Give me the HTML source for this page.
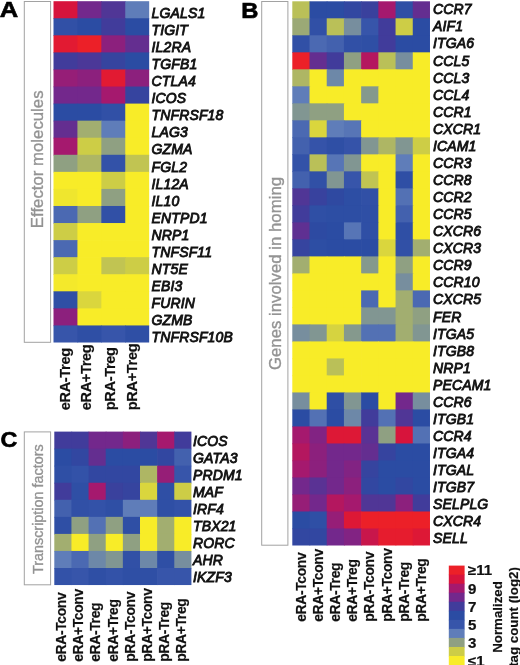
<!DOCTYPE html>
<html><head><meta charset="utf-8"><title>Figure</title>
<style>
html,body{margin:0;padding:0;background:#fff;width:520px;height:665px;overflow:hidden;}
#fig{position:relative;width:520px;height:665px;overflow:hidden;background:#fff;}
body{width:520px;height:665px;overflow:hidden;font-family:"Liberation Sans",sans-serif;}
svg{display:block;will-change:transform;filter:blur(0.45px);}
text{font-family:"Liberation Sans",sans-serif;fill:#111;}
.g{font-size:14.0px;letter-spacing:0.15px;font-style:italic;font-weight:normal;stroke:#111;stroke-width:0.85;}
.c{font-size:13.9px;letter-spacing:-0.35px;font-weight:bold;stroke:#111;stroke-width:0.2;}
.b{fill:#939393;stroke:#939393;stroke-width:0.35;}
.l{font-size:14px;font-weight:bold;stroke:#111;stroke-width:0.2;}
.n{font-size:13.3px;font-weight:bold;stroke:#111;stroke-width:0.2;}
.p{font-size:21.8px;font-weight:bold;fill:#000;stroke:#000;stroke-width:0.6;}
</style></head><body>
<div id="fig">
<svg width="540" height="690" viewBox="0 0 540 690">
<rect x="53.50" y="1.20" width="24.62" height="17.77" fill="#d7143c"/>
<rect x="77.42" y="1.20" width="24.62" height="17.77" fill="#73288c"/>
<rect x="101.34" y="1.20" width="24.62" height="17.77" fill="#503696"/>
<rect x="125.26" y="1.20" width="23.92" height="17.77" fill="#5f7db9"/>
<rect x="53.50" y="18.27" width="24.62" height="17.77" fill="#3150a6"/>
<rect x="77.42" y="18.27" width="24.62" height="17.77" fill="#2b4ca3"/>
<rect x="101.34" y="18.27" width="24.62" height="17.77" fill="#413c9b"/>
<rect x="125.26" y="18.27" width="23.92" height="17.77" fill="#2b4ca3"/>
<rect x="53.50" y="35.33" width="24.62" height="17.77" fill="#e21a32"/>
<rect x="77.42" y="35.33" width="24.62" height="17.77" fill="#ec2028"/>
<rect x="101.34" y="35.33" width="24.62" height="17.77" fill="#8c207d"/>
<rect x="125.26" y="35.33" width="23.92" height="17.77" fill="#642e90"/>
<rect x="53.50" y="52.40" width="24.62" height="17.77" fill="#413c9b"/>
<rect x="77.42" y="52.40" width="24.62" height="17.77" fill="#4b3898"/>
<rect x="101.34" y="52.40" width="24.62" height="17.77" fill="#36449f"/>
<rect x="125.26" y="52.40" width="23.92" height="17.77" fill="#2b4ca3"/>
<rect x="53.50" y="69.46" width="24.62" height="17.77" fill="#961e77"/>
<rect x="77.42" y="69.46" width="24.62" height="17.77" fill="#8c207d"/>
<rect x="101.34" y="69.46" width="24.62" height="17.77" fill="#e21a32"/>
<rect x="125.26" y="69.46" width="23.92" height="17.77" fill="#8c207d"/>
<rect x="53.50" y="86.53" width="24.62" height="17.77" fill="#73288c"/>
<rect x="77.42" y="86.53" width="24.62" height="17.77" fill="#73288c"/>
<rect x="101.34" y="86.53" width="24.62" height="17.77" fill="#a5196e"/>
<rect x="125.26" y="86.53" width="23.92" height="17.77" fill="#36449f"/>
<rect x="53.50" y="103.59" width="24.62" height="17.77" fill="#2b4ca3"/>
<rect x="77.42" y="103.59" width="24.62" height="17.77" fill="#2b4ca3"/>
<rect x="101.34" y="103.59" width="24.62" height="17.77" fill="#3150a6"/>
<rect x="125.26" y="103.59" width="23.92" height="17.77" fill="#f8ec28"/>
<rect x="53.50" y="120.66" width="24.62" height="17.77" fill="#642e90"/>
<rect x="77.42" y="120.66" width="24.62" height="17.77" fill="#a2ae70"/>
<rect x="101.34" y="120.66" width="24.62" height="17.77" fill="#5f7db9"/>
<rect x="125.26" y="120.66" width="23.92" height="17.77" fill="#f8ec28"/>
<rect x="53.50" y="137.72" width="24.62" height="17.77" fill="#a5196e"/>
<rect x="77.42" y="137.72" width="24.62" height="17.77" fill="#cdcd46"/>
<rect x="101.34" y="137.72" width="24.62" height="17.77" fill="#8fa082"/>
<rect x="125.26" y="137.72" width="23.92" height="17.77" fill="#f8ec28"/>
<rect x="53.50" y="154.78" width="24.62" height="17.77" fill="#8fa082"/>
<rect x="77.42" y="154.78" width="24.62" height="17.77" fill="#aeb664"/>
<rect x="101.34" y="154.78" width="24.62" height="17.77" fill="#3352a8"/>
<rect x="125.26" y="154.78" width="23.92" height="17.77" fill="#c1c452"/>
<rect x="53.50" y="171.85" width="24.62" height="17.77" fill="#f8ec28"/>
<rect x="77.42" y="171.85" width="24.62" height="17.77" fill="#f8ec28"/>
<rect x="101.34" y="171.85" width="24.62" height="17.77" fill="#cdcd46"/>
<rect x="125.26" y="171.85" width="23.92" height="17.77" fill="#f8ec28"/>
<rect x="53.50" y="188.91" width="24.62" height="17.77" fill="#efe62e"/>
<rect x="77.42" y="188.91" width="24.62" height="17.77" fill="#f8ec28"/>
<rect x="101.34" y="188.91" width="24.62" height="17.77" fill="#8fa082"/>
<rect x="125.26" y="188.91" width="23.92" height="17.77" fill="#f8ec28"/>
<rect x="53.50" y="205.98" width="24.62" height="17.77" fill="#4b69b2"/>
<rect x="77.42" y="205.98" width="24.62" height="17.77" fill="#8fa082"/>
<rect x="101.34" y="205.98" width="24.62" height="17.77" fill="#3150a6"/>
<rect x="125.26" y="205.98" width="23.92" height="17.77" fill="#f8ec28"/>
<rect x="53.50" y="223.05" width="24.62" height="17.77" fill="#cdcd46"/>
<rect x="77.42" y="223.05" width="24.62" height="17.77" fill="#f8ec28"/>
<rect x="101.34" y="223.05" width="24.62" height="17.77" fill="#f8ec28"/>
<rect x="125.26" y="223.05" width="23.92" height="17.77" fill="#f8ec28"/>
<rect x="53.50" y="240.11" width="24.62" height="17.77" fill="#4b69b2"/>
<rect x="77.42" y="240.11" width="24.62" height="17.77" fill="#f8ec28"/>
<rect x="101.34" y="240.11" width="24.62" height="17.77" fill="#f8ec28"/>
<rect x="125.26" y="240.11" width="23.92" height="17.77" fill="#f8ec28"/>
<rect x="53.50" y="257.18" width="24.62" height="17.77" fill="#cdcd46"/>
<rect x="77.42" y="257.18" width="24.62" height="17.77" fill="#f8ec28"/>
<rect x="101.34" y="257.18" width="24.62" height="17.77" fill="#c1c452"/>
<rect x="125.26" y="257.18" width="23.92" height="17.77" fill="#cdcd46"/>
<rect x="53.50" y="274.24" width="24.62" height="17.77" fill="#f4e92b"/>
<rect x="77.42" y="274.24" width="24.62" height="17.77" fill="#f8ec28"/>
<rect x="101.34" y="274.24" width="24.62" height="17.77" fill="#f8ec28"/>
<rect x="125.26" y="274.24" width="23.92" height="17.77" fill="#f8ec28"/>
<rect x="53.50" y="291.31" width="24.62" height="17.77" fill="#2f4fa5"/>
<rect x="77.42" y="291.31" width="24.62" height="17.77" fill="#dad63d"/>
<rect x="101.34" y="291.31" width="24.62" height="17.77" fill="#f8ec28"/>
<rect x="125.26" y="291.31" width="23.92" height="17.77" fill="#f8ec28"/>
<rect x="53.50" y="308.37" width="24.62" height="17.77" fill="#8c207d"/>
<rect x="77.42" y="308.37" width="24.62" height="17.77" fill="#f8ec28"/>
<rect x="101.34" y="308.37" width="24.62" height="17.77" fill="#f8ec28"/>
<rect x="125.26" y="308.37" width="23.92" height="17.77" fill="#f8ec28"/>
<rect x="53.50" y="325.44" width="24.62" height="17.07" fill="#3755aa"/>
<rect x="77.42" y="325.44" width="24.62" height="17.07" fill="#2f4fa5"/>
<rect x="101.34" y="325.44" width="24.62" height="17.07" fill="#3755aa"/>
<rect x="125.26" y="325.44" width="23.92" height="17.07" fill="#2f4fa5"/>
<text class="g" x="151.50" y="18.00">LGALS1</text>
<text class="g" x="151.50" y="35.05">TIGIT</text>
<text class="g" x="151.50" y="52.11">IL2RA</text>
<text class="g" x="151.50" y="69.16">TGFB1</text>
<text class="g" x="151.50" y="86.22">CTLA4</text>
<text class="g" x="151.50" y="103.28">ICOS</text>
<text class="g" x="151.50" y="120.33">TNFRSF18</text>
<text class="g" x="151.50" y="137.38">LAG3</text>
<text class="g" x="151.50" y="154.44">GZMA</text>
<text class="g" x="151.50" y="171.50">FGL2</text>
<text class="g" x="151.50" y="188.55">IL12A</text>
<text class="g" x="151.50" y="205.60">IL10</text>
<text class="g" x="151.50" y="222.66">ENTPD1</text>
<text class="g" x="151.50" y="239.72">NRP1</text>
<text class="g" x="151.50" y="256.77">TNFSF11</text>
<text class="g" x="151.50" y="273.82">NT5E</text>
<text class="g" x="151.50" y="290.88">EBI3</text>
<text class="g" x="151.50" y="307.94">FURIN</text>
<text class="g" x="151.50" y="324.99">GZMB</text>
<text class="g" x="151.50" y="342.05">TNFRSF10B</text>
<rect x="24.30" y="1.50" width="26.30" height="340.80" fill="#fff" stroke="#a2a2a2" stroke-width="1"/><text class="b" style="font-size:16.8px" transform="translate(43.40 159.30) rotate(-90)" text-anchor="middle">Effector molecules</text>
<text class="c" style="font-size:14.6px" transform="translate(70.00 410.30) rotate(-90) scale(1.000 1)">eRA-Treg</text>
<text class="c" style="font-size:14.6px" transform="translate(91.20 410.30) rotate(-90) scale(1.000 1)">eRA+Treg</text>
<text class="c" style="font-size:14.6px" transform="translate(115.20 410.30) rotate(-90) scale(1.000 1)">pRA-Treg</text>
<text class="c" style="font-size:14.6px" transform="translate(137.30 410.30) rotate(-90) scale(1.000 1)">pRA+Treg</text>
<rect x="292.30" y="1.30" width="17.91" height="17.71" fill="#bac058"/>
<rect x="309.51" y="1.30" width="17.91" height="17.71" fill="#2b4ca3"/>
<rect x="326.72" y="1.30" width="17.91" height="17.71" fill="#2b4ca3"/>
<rect x="343.93" y="1.30" width="17.91" height="17.71" fill="#3247a1"/>
<rect x="361.14" y="1.30" width="17.91" height="17.71" fill="#3a419d"/>
<rect x="378.35" y="1.30" width="17.91" height="17.71" fill="#a5196e"/>
<rect x="395.56" y="1.30" width="17.91" height="17.71" fill="#2f4fa5"/>
<rect x="412.77" y="1.30" width="17.21" height="17.71" fill="#642e90"/>
<rect x="292.30" y="18.31" width="17.91" height="17.71" fill="#9ba976"/>
<rect x="309.51" y="18.31" width="17.91" height="17.71" fill="#3150a6"/>
<rect x="326.72" y="18.31" width="17.91" height="17.71" fill="#bac058"/>
<rect x="343.93" y="18.31" width="17.91" height="17.71" fill="#778e9e"/>
<rect x="361.14" y="18.31" width="17.91" height="17.71" fill="#3755aa"/>
<rect x="378.35" y="18.31" width="17.91" height="17.71" fill="#413c9b"/>
<rect x="395.56" y="18.31" width="17.91" height="17.71" fill="#cdcd46"/>
<rect x="412.77" y="18.31" width="17.21" height="17.71" fill="#2b4ca3"/>
<rect x="292.30" y="35.31" width="17.91" height="17.71" fill="#3150a6"/>
<rect x="309.51" y="35.31" width="17.91" height="17.71" fill="#4b69b2"/>
<rect x="326.72" y="35.31" width="17.91" height="17.71" fill="#4361ae"/>
<rect x="343.93" y="35.31" width="17.91" height="17.71" fill="#3150a6"/>
<rect x="361.14" y="35.31" width="17.91" height="17.71" fill="#2f4fa5"/>
<rect x="378.35" y="35.31" width="17.91" height="17.71" fill="#413c9b"/>
<rect x="395.56" y="35.31" width="17.91" height="17.71" fill="#2b4ca3"/>
<rect x="412.77" y="35.31" width="17.21" height="17.71" fill="#2b4ca3"/>
<rect x="292.30" y="52.32" width="17.91" height="17.71" fill="#ec2028"/>
<rect x="309.51" y="52.32" width="17.91" height="17.71" fill="#642e90"/>
<rect x="326.72" y="52.32" width="17.91" height="17.71" fill="#413c9b"/>
<rect x="343.93" y="52.32" width="17.91" height="17.71" fill="#8fa082"/>
<rect x="361.14" y="52.32" width="17.91" height="17.71" fill="#b4175f"/>
<rect x="378.35" y="52.32" width="17.91" height="17.71" fill="#bac058"/>
<rect x="395.56" y="52.32" width="17.91" height="17.71" fill="#778e9e"/>
<rect x="412.77" y="52.32" width="17.21" height="17.71" fill="#f8ec28"/>
<rect x="292.30" y="69.32" width="17.91" height="17.71" fill="#aeb664"/>
<rect x="309.51" y="69.32" width="17.91" height="17.71" fill="#f8ec28"/>
<rect x="326.72" y="69.32" width="17.91" height="17.71" fill="#6d88a8"/>
<rect x="343.93" y="69.32" width="17.91" height="17.71" fill="#f8ec28"/>
<rect x="361.14" y="69.32" width="17.91" height="17.71" fill="#f8ec28"/>
<rect x="378.35" y="69.32" width="17.91" height="17.71" fill="#f8ec28"/>
<rect x="395.56" y="69.32" width="17.91" height="17.71" fill="#f8ec28"/>
<rect x="412.77" y="69.32" width="17.21" height="17.71" fill="#f8ec28"/>
<rect x="292.30" y="86.33" width="17.91" height="17.71" fill="#5f7db9"/>
<rect x="309.51" y="86.33" width="17.91" height="17.71" fill="#f8ec28"/>
<rect x="326.72" y="86.33" width="17.91" height="17.71" fill="#f8ec28"/>
<rect x="343.93" y="86.33" width="17.91" height="17.71" fill="#f8ec28"/>
<rect x="361.14" y="86.33" width="17.91" height="17.71" fill="#85998d"/>
<rect x="378.35" y="86.33" width="17.91" height="17.71" fill="#f8ec28"/>
<rect x="395.56" y="86.33" width="17.91" height="17.71" fill="#f8ec28"/>
<rect x="412.77" y="86.33" width="17.21" height="17.71" fill="#f8ec28"/>
<rect x="292.30" y="103.34" width="17.91" height="17.71" fill="#819692"/>
<rect x="309.51" y="103.34" width="17.91" height="17.71" fill="#8fa082"/>
<rect x="326.72" y="103.34" width="17.91" height="17.71" fill="#8fa082"/>
<rect x="343.93" y="103.34" width="17.91" height="17.71" fill="#f8ec28"/>
<rect x="361.14" y="103.34" width="17.91" height="17.71" fill="#f8ec28"/>
<rect x="378.35" y="103.34" width="17.91" height="17.71" fill="#f8ec28"/>
<rect x="395.56" y="103.34" width="17.91" height="17.71" fill="#f8ec28"/>
<rect x="412.77" y="103.34" width="17.21" height="17.71" fill="#f8ec28"/>
<rect x="292.30" y="120.34" width="17.91" height="17.71" fill="#4b69b2"/>
<rect x="309.51" y="120.34" width="17.91" height="17.71" fill="#dad63d"/>
<rect x="326.72" y="120.34" width="17.91" height="17.71" fill="#5f7db9"/>
<rect x="343.93" y="120.34" width="17.91" height="17.71" fill="#5775b6"/>
<rect x="361.14" y="120.34" width="17.91" height="17.71" fill="#f8ec28"/>
<rect x="378.35" y="120.34" width="17.91" height="17.71" fill="#f8ec28"/>
<rect x="395.56" y="120.34" width="17.91" height="17.71" fill="#f8ec28"/>
<rect x="412.77" y="120.34" width="17.21" height="17.71" fill="#f8ec28"/>
<rect x="292.30" y="137.35" width="17.91" height="17.71" fill="#4361ae"/>
<rect x="309.51" y="137.35" width="17.91" height="17.71" fill="#3553a9"/>
<rect x="326.72" y="137.35" width="17.91" height="17.71" fill="#2f4fa5"/>
<rect x="343.93" y="137.35" width="17.91" height="17.71" fill="#3553a9"/>
<rect x="361.14" y="137.35" width="17.91" height="17.71" fill="#819692"/>
<rect x="378.35" y="137.35" width="17.91" height="17.71" fill="#aeb664"/>
<rect x="395.56" y="137.35" width="17.91" height="17.71" fill="#819692"/>
<rect x="412.77" y="137.35" width="17.21" height="17.71" fill="#cdcd46"/>
<rect x="292.30" y="154.35" width="17.91" height="17.71" fill="#3352a8"/>
<rect x="309.51" y="154.35" width="17.91" height="17.71" fill="#bac058"/>
<rect x="326.72" y="154.35" width="17.91" height="17.71" fill="#5775b6"/>
<rect x="343.93" y="154.35" width="17.91" height="17.71" fill="#819692"/>
<rect x="361.14" y="154.35" width="17.91" height="17.71" fill="#f8ec28"/>
<rect x="378.35" y="154.35" width="17.91" height="17.71" fill="#f8ec28"/>
<rect x="395.56" y="154.35" width="17.91" height="17.71" fill="#5f7db9"/>
<rect x="412.77" y="154.35" width="17.21" height="17.71" fill="#f8ec28"/>
<rect x="292.30" y="171.36" width="17.91" height="17.71" fill="#4361ae"/>
<rect x="309.51" y="171.36" width="17.91" height="17.71" fill="#3150a6"/>
<rect x="326.72" y="171.36" width="17.91" height="17.71" fill="#819692"/>
<rect x="343.93" y="171.36" width="17.91" height="17.71" fill="#3755aa"/>
<rect x="361.14" y="171.36" width="17.91" height="17.71" fill="#c1c452"/>
<rect x="378.35" y="171.36" width="17.91" height="17.71" fill="#f8ec28"/>
<rect x="395.56" y="171.36" width="17.91" height="17.71" fill="#2f4fa5"/>
<rect x="412.77" y="171.36" width="17.21" height="17.71" fill="#f8ec28"/>
<rect x="292.30" y="188.37" width="17.91" height="17.71" fill="#503696"/>
<rect x="309.51" y="188.37" width="17.91" height="17.71" fill="#38429e"/>
<rect x="326.72" y="188.37" width="17.91" height="17.71" fill="#2f49a1"/>
<rect x="343.93" y="188.37" width="17.91" height="17.71" fill="#2d4ea4"/>
<rect x="361.14" y="188.37" width="17.91" height="17.71" fill="#3150a6"/>
<rect x="378.35" y="188.37" width="17.91" height="17.71" fill="#f8ec28"/>
<rect x="395.56" y="188.37" width="17.91" height="17.71" fill="#5371b4"/>
<rect x="412.77" y="188.37" width="17.21" height="17.71" fill="#f8ec28"/>
<rect x="292.30" y="205.37" width="17.91" height="17.71" fill="#413c9b"/>
<rect x="309.51" y="205.37" width="17.91" height="17.71" fill="#2f4fa5"/>
<rect x="326.72" y="205.37" width="17.91" height="17.71" fill="#2d4ea4"/>
<rect x="343.93" y="205.37" width="17.91" height="17.71" fill="#2d4ea4"/>
<rect x="361.14" y="205.37" width="17.91" height="17.71" fill="#2f4fa5"/>
<rect x="378.35" y="205.37" width="17.91" height="17.71" fill="#f8ec28"/>
<rect x="395.56" y="205.37" width="17.91" height="17.71" fill="#4361ae"/>
<rect x="412.77" y="205.37" width="17.21" height="17.71" fill="#f8ec28"/>
<rect x="292.30" y="222.38" width="17.91" height="17.71" fill="#5f3092"/>
<rect x="309.51" y="222.38" width="17.91" height="17.71" fill="#2d4aa2"/>
<rect x="326.72" y="222.38" width="17.91" height="17.71" fill="#2b4ca3"/>
<rect x="343.93" y="222.38" width="17.91" height="17.71" fill="#5775b6"/>
<rect x="361.14" y="222.38" width="17.91" height="17.71" fill="#2f4fa5"/>
<rect x="378.35" y="222.38" width="17.91" height="17.71" fill="#f8ec28"/>
<rect x="395.56" y="222.38" width="17.91" height="17.71" fill="#2f4fa5"/>
<rect x="412.77" y="222.38" width="17.21" height="17.71" fill="#f8ec28"/>
<rect x="292.30" y="239.38" width="17.91" height="17.71" fill="#36449f"/>
<rect x="309.51" y="239.38" width="17.91" height="17.71" fill="#2d4ea4"/>
<rect x="326.72" y="239.38" width="17.91" height="17.71" fill="#2b4ca3"/>
<rect x="343.93" y="239.38" width="17.91" height="17.71" fill="#2b4ca3"/>
<rect x="361.14" y="239.38" width="17.91" height="17.71" fill="#2b4ca3"/>
<rect x="378.35" y="239.38" width="17.91" height="17.71" fill="#dad63d"/>
<rect x="395.56" y="239.38" width="17.91" height="17.71" fill="#3150a6"/>
<rect x="412.77" y="239.38" width="17.21" height="17.71" fill="#a2ae70"/>
<rect x="292.30" y="256.39" width="17.91" height="17.71" fill="#a2ae70"/>
<rect x="309.51" y="256.39" width="17.91" height="17.71" fill="#f8ec28"/>
<rect x="326.72" y="256.39" width="17.91" height="17.71" fill="#f8ec28"/>
<rect x="343.93" y="256.39" width="17.91" height="17.71" fill="#f8ec28"/>
<rect x="361.14" y="256.39" width="17.91" height="17.71" fill="#85998d"/>
<rect x="378.35" y="256.39" width="17.91" height="17.71" fill="#f8ec28"/>
<rect x="395.56" y="256.39" width="17.91" height="17.71" fill="#8fa082"/>
<rect x="412.77" y="256.39" width="17.21" height="17.71" fill="#f8ec28"/>
<rect x="292.30" y="273.40" width="17.91" height="17.71" fill="#f8ec28"/>
<rect x="309.51" y="273.40" width="17.91" height="17.71" fill="#f8ec28"/>
<rect x="326.72" y="273.40" width="17.91" height="17.71" fill="#f8ec28"/>
<rect x="343.93" y="273.40" width="17.91" height="17.71" fill="#f8ec28"/>
<rect x="361.14" y="273.40" width="17.91" height="17.71" fill="#f8ec28"/>
<rect x="378.35" y="273.40" width="17.91" height="17.71" fill="#f8ec28"/>
<rect x="395.56" y="273.40" width="17.91" height="17.71" fill="#778e9e"/>
<rect x="412.77" y="273.40" width="17.21" height="17.71" fill="#f8ec28"/>
<rect x="292.30" y="290.40" width="17.91" height="17.71" fill="#f8ec28"/>
<rect x="309.51" y="290.40" width="17.91" height="17.71" fill="#f8ec28"/>
<rect x="326.72" y="290.40" width="17.91" height="17.71" fill="#f8ec28"/>
<rect x="343.93" y="290.40" width="17.91" height="17.71" fill="#f8ec28"/>
<rect x="361.14" y="290.40" width="17.91" height="17.71" fill="#4b69b2"/>
<rect x="378.35" y="290.40" width="17.91" height="17.71" fill="#f8ec28"/>
<rect x="395.56" y="290.40" width="17.91" height="17.71" fill="#a2ae70"/>
<rect x="412.77" y="290.40" width="17.21" height="17.71" fill="#4b69b2"/>
<rect x="292.30" y="307.41" width="17.91" height="17.71" fill="#f8ec28"/>
<rect x="309.51" y="307.41" width="17.91" height="17.71" fill="#f8ec28"/>
<rect x="326.72" y="307.41" width="17.91" height="17.71" fill="#f8ec28"/>
<rect x="343.93" y="307.41" width="17.91" height="17.71" fill="#f8ec28"/>
<rect x="361.14" y="307.41" width="17.91" height="17.71" fill="#819692"/>
<rect x="378.35" y="307.41" width="17.91" height="17.71" fill="#819692"/>
<rect x="395.56" y="307.41" width="17.91" height="17.71" fill="#a2ae70"/>
<rect x="412.77" y="307.41" width="17.21" height="17.71" fill="#8fa082"/>
<rect x="292.30" y="324.41" width="17.91" height="17.71" fill="#778e9e"/>
<rect x="309.51" y="324.41" width="17.91" height="17.71" fill="#819692"/>
<rect x="326.72" y="324.41" width="17.91" height="17.71" fill="#d6d340"/>
<rect x="343.93" y="324.41" width="17.91" height="17.71" fill="#85998d"/>
<rect x="361.14" y="324.41" width="17.91" height="17.71" fill="#5371b4"/>
<rect x="378.35" y="324.41" width="17.91" height="17.71" fill="#5371b4"/>
<rect x="395.56" y="324.41" width="17.91" height="17.71" fill="#a2ae70"/>
<rect x="412.77" y="324.41" width="17.21" height="17.71" fill="#819692"/>
<rect x="292.30" y="341.42" width="17.91" height="17.71" fill="#f8ec28"/>
<rect x="309.51" y="341.42" width="17.91" height="17.71" fill="#f8ec28"/>
<rect x="326.72" y="341.42" width="17.91" height="17.71" fill="#f8ec28"/>
<rect x="343.93" y="341.42" width="17.91" height="17.71" fill="#f8ec28"/>
<rect x="361.14" y="341.42" width="17.91" height="17.71" fill="#f8ec28"/>
<rect x="378.35" y="341.42" width="17.91" height="17.71" fill="#f8ec28"/>
<rect x="395.56" y="341.42" width="17.91" height="17.71" fill="#f8ec28"/>
<rect x="412.77" y="341.42" width="17.21" height="17.71" fill="#f8ec28"/>
<rect x="292.30" y="358.43" width="17.91" height="17.71" fill="#f8ec28"/>
<rect x="309.51" y="358.43" width="17.91" height="17.71" fill="#f8ec28"/>
<rect x="326.72" y="358.43" width="17.91" height="17.71" fill="#bac058"/>
<rect x="343.93" y="358.43" width="17.91" height="17.71" fill="#f8ec28"/>
<rect x="361.14" y="358.43" width="17.91" height="17.71" fill="#f8ec28"/>
<rect x="378.35" y="358.43" width="17.91" height="17.71" fill="#f8ec28"/>
<rect x="395.56" y="358.43" width="17.91" height="17.71" fill="#f8ec28"/>
<rect x="412.77" y="358.43" width="17.21" height="17.71" fill="#f8ec28"/>
<rect x="292.30" y="375.43" width="17.91" height="17.71" fill="#f8ec28"/>
<rect x="309.51" y="375.43" width="17.91" height="17.71" fill="#f8ec28"/>
<rect x="326.72" y="375.43" width="17.91" height="17.71" fill="#f8ec28"/>
<rect x="343.93" y="375.43" width="17.91" height="17.71" fill="#f8ec28"/>
<rect x="361.14" y="375.43" width="17.91" height="17.71" fill="#f8ec28"/>
<rect x="378.35" y="375.43" width="17.91" height="17.71" fill="#f8ec28"/>
<rect x="395.56" y="375.43" width="17.91" height="17.71" fill="#f8ec28"/>
<rect x="412.77" y="375.43" width="17.21" height="17.71" fill="#f8ec28"/>
<rect x="292.30" y="392.44" width="17.91" height="17.71" fill="#778e9e"/>
<rect x="309.51" y="392.44" width="17.91" height="17.71" fill="#f8ec28"/>
<rect x="326.72" y="392.44" width="17.91" height="17.71" fill="#2f4fa5"/>
<rect x="343.93" y="392.44" width="17.91" height="17.71" fill="#819692"/>
<rect x="361.14" y="392.44" width="17.91" height="17.71" fill="#2b4ca3"/>
<rect x="378.35" y="392.44" width="17.91" height="17.71" fill="#f8ec28"/>
<rect x="395.56" y="392.44" width="17.91" height="17.71" fill="#73288c"/>
<rect x="412.77" y="392.44" width="17.21" height="17.71" fill="#778e9e"/>
<rect x="292.30" y="409.44" width="17.91" height="17.71" fill="#2b4ca3"/>
<rect x="309.51" y="409.44" width="17.91" height="17.71" fill="#5371b4"/>
<rect x="326.72" y="409.44" width="17.91" height="17.71" fill="#2b4ca3"/>
<rect x="343.93" y="409.44" width="17.91" height="17.71" fill="#6d88a8"/>
<rect x="361.14" y="409.44" width="17.91" height="17.71" fill="#413c9b"/>
<rect x="378.35" y="409.44" width="17.91" height="17.71" fill="#5371b4"/>
<rect x="395.56" y="409.44" width="17.91" height="17.71" fill="#503696"/>
<rect x="412.77" y="409.44" width="17.21" height="17.71" fill="#2b4ca3"/>
<rect x="292.30" y="426.45" width="17.91" height="17.71" fill="#a5196e"/>
<rect x="309.51" y="426.45" width="17.91" height="17.71" fill="#822383"/>
<rect x="326.72" y="426.45" width="17.91" height="17.71" fill="#dd1836"/>
<rect x="343.93" y="426.45" width="17.91" height="17.71" fill="#dd1836"/>
<rect x="361.14" y="426.45" width="17.91" height="17.71" fill="#5a3294"/>
<rect x="378.35" y="426.45" width="17.91" height="17.71" fill="#8fa082"/>
<rect x="395.56" y="426.45" width="17.91" height="17.71" fill="#d7143c"/>
<rect x="412.77" y="426.45" width="17.21" height="17.71" fill="#5371b4"/>
<rect x="292.30" y="443.46" width="17.91" height="17.71" fill="#b4175f"/>
<rect x="309.51" y="443.46" width="17.91" height="17.71" fill="#8c207d"/>
<rect x="326.72" y="443.46" width="17.91" height="17.71" fill="#73288c"/>
<rect x="343.93" y="443.46" width="17.91" height="17.71" fill="#73288c"/>
<rect x="361.14" y="443.46" width="17.91" height="17.71" fill="#642e90"/>
<rect x="378.35" y="443.46" width="17.91" height="17.71" fill="#36449f"/>
<rect x="395.56" y="443.46" width="17.91" height="17.71" fill="#2b4ca3"/>
<rect x="412.77" y="443.46" width="17.21" height="17.71" fill="#2b4ca3"/>
<rect x="292.30" y="460.46" width="17.91" height="17.71" fill="#a5196e"/>
<rect x="309.51" y="460.46" width="17.91" height="17.71" fill="#8c207d"/>
<rect x="326.72" y="460.46" width="17.91" height="17.71" fill="#73288c"/>
<rect x="343.93" y="460.46" width="17.91" height="17.71" fill="#822383"/>
<rect x="361.14" y="460.46" width="17.91" height="17.71" fill="#36449f"/>
<rect x="378.35" y="460.46" width="17.91" height="17.71" fill="#2b4ca3"/>
<rect x="395.56" y="460.46" width="17.91" height="17.71" fill="#2b4ca3"/>
<rect x="412.77" y="460.46" width="17.21" height="17.71" fill="#2b4ca3"/>
<rect x="292.30" y="477.47" width="17.91" height="17.71" fill="#73288c"/>
<rect x="309.51" y="477.47" width="17.91" height="17.71" fill="#5a3294"/>
<rect x="326.72" y="477.47" width="17.91" height="17.71" fill="#73288c"/>
<rect x="343.93" y="477.47" width="17.91" height="17.71" fill="#8c207d"/>
<rect x="361.14" y="477.47" width="17.91" height="17.71" fill="#3247a1"/>
<rect x="378.35" y="477.47" width="17.91" height="17.71" fill="#2b4ca3"/>
<rect x="395.56" y="477.47" width="17.91" height="17.71" fill="#3247a1"/>
<rect x="412.77" y="477.47" width="17.21" height="17.71" fill="#2b4ca3"/>
<rect x="292.30" y="494.47" width="17.91" height="17.71" fill="#961e77"/>
<rect x="309.51" y="494.47" width="17.91" height="17.71" fill="#73288c"/>
<rect x="326.72" y="494.47" width="17.91" height="17.71" fill="#b4175f"/>
<rect x="343.93" y="494.47" width="17.91" height="17.71" fill="#a5196e"/>
<rect x="361.14" y="494.47" width="17.91" height="17.71" fill="#503696"/>
<rect x="378.35" y="494.47" width="17.91" height="17.71" fill="#503696"/>
<rect x="395.56" y="494.47" width="17.91" height="17.71" fill="#8c207d"/>
<rect x="412.77" y="494.47" width="17.21" height="17.71" fill="#413c9b"/>
<rect x="292.30" y="511.48" width="17.91" height="17.71" fill="#2b4ca3"/>
<rect x="309.51" y="511.48" width="17.91" height="17.71" fill="#2f4fa5"/>
<rect x="326.72" y="511.48" width="17.91" height="17.71" fill="#961e77"/>
<rect x="343.93" y="511.48" width="17.91" height="17.71" fill="#dd1836"/>
<rect x="361.14" y="511.48" width="17.91" height="17.71" fill="#ec2028"/>
<rect x="378.35" y="511.48" width="17.91" height="17.71" fill="#ec2028"/>
<rect x="395.56" y="511.48" width="17.91" height="17.71" fill="#ec2028"/>
<rect x="412.77" y="511.48" width="17.21" height="17.71" fill="#ec2028"/>
<rect x="292.30" y="528.49" width="17.91" height="17.01" fill="#3247a1"/>
<rect x="309.51" y="528.49" width="17.91" height="17.01" fill="#3247a1"/>
<rect x="326.72" y="528.49" width="17.91" height="17.01" fill="#73288c"/>
<rect x="343.93" y="528.49" width="17.91" height="17.01" fill="#822383"/>
<rect x="361.14" y="528.49" width="17.91" height="17.01" fill="#c8164b"/>
<rect x="378.35" y="528.49" width="17.91" height="17.01" fill="#e61c2e"/>
<rect x="395.56" y="528.49" width="17.91" height="17.01" fill="#e61c2e"/>
<rect x="412.77" y="528.49" width="17.21" height="17.01" fill="#dd1836"/>
<text class="g" x="433.00" y="14.30">CCR7</text>
<text class="g" x="433.00" y="31.37">AIF1</text>
<text class="g" x="433.00" y="48.44">ITGA6</text>
<text class="g" x="433.00" y="65.51">CCL5</text>
<text class="g" x="433.00" y="82.58">CCL3</text>
<text class="g" x="433.00" y="99.65">CCL4</text>
<text class="g" x="433.00" y="116.72">CCR1</text>
<text class="g" x="433.00" y="133.79">CXCR1</text>
<text class="g" x="433.00" y="150.86">ICAM1</text>
<text class="g" x="433.00" y="167.93">CCR3</text>
<text class="g" x="433.00" y="185.00">CCR8</text>
<text class="g" x="433.00" y="202.07">CCR2</text>
<text class="g" x="433.00" y="219.14">CCR5</text>
<text class="g" x="433.00" y="236.21">CXCR6</text>
<text class="g" x="433.00" y="253.28">CXCR3</text>
<text class="g" x="433.00" y="270.35">CCR9</text>
<text class="g" x="433.00" y="287.42">CCR10</text>
<text class="g" x="433.00" y="304.49">CXCR5</text>
<text class="g" x="433.00" y="321.56">FER</text>
<text class="g" x="433.00" y="338.63">ITGA5</text>
<text class="g" x="433.00" y="355.70">ITGB8</text>
<text class="g" x="433.00" y="372.77">NRP1</text>
<text class="g" x="433.00" y="389.84">PECAM1</text>
<text class="g" x="433.00" y="406.91">CCR6</text>
<text class="g" x="433.00" y="423.98">ITGB1</text>
<text class="g" x="433.00" y="441.05">CCR4</text>
<text class="g" x="433.00" y="458.12">ITGA4</text>
<text class="g" x="433.00" y="475.19">ITGAL</text>
<text class="g" x="433.00" y="492.26">ITGB7</text>
<text class="g" x="433.00" y="509.33">SELPLG</text>
<text class="g" x="433.00" y="526.40">CXCR4</text>
<text class="g" x="433.00" y="543.47">SELL</text>
<rect x="261.70" y="1.50" width="26.20" height="543.70" fill="#fff" stroke="#a2a2a2" stroke-width="1"/><text class="b" style="font-size:16.8px" transform="translate(280.80 273.50) rotate(-90)" text-anchor="middle">Genes involved in homing</text>
<text class="c" style="font-size:13.9px" transform="translate(305.60 621.80) rotate(-90) scale(1.000 1)">eRA-Tconv</text>
<text class="c" style="font-size:13.9px" transform="translate(322.80 621.80) rotate(-90) scale(1.000 1)">eRA+Tconv</text>
<text class="c" style="font-size:13.9px" transform="translate(340.00 621.80) rotate(-90) scale(1.000 1)">eRA-Treg</text>
<text class="c" style="font-size:13.9px" transform="translate(357.20 621.80) rotate(-90) scale(1.000 1)">eRA+Treg</text>
<text class="c" style="font-size:13.9px" transform="translate(374.40 621.80) rotate(-90) scale(1.000 1)">pRA-Tconv</text>
<text class="c" style="font-size:13.9px" transform="translate(391.60 621.80) rotate(-90) scale(1.000 1)">pRA+Tconv</text>
<text class="c" style="font-size:13.9px" transform="translate(408.80 621.80) rotate(-90) scale(1.000 1)">pRA-Treg</text>
<text class="c" style="font-size:13.9px" transform="translate(426.00 621.80) rotate(-90) scale(1.000 1)">pRA+Treg</text>
<rect x="54.30" y="431.60" width="17.84" height="17.75" fill="#413c9b"/>
<rect x="71.44" y="431.60" width="17.84" height="17.75" fill="#413c9b"/>
<rect x="88.58" y="431.60" width="17.84" height="17.75" fill="#73288c"/>
<rect x="105.72" y="431.60" width="17.84" height="17.75" fill="#73288c"/>
<rect x="122.86" y="431.60" width="17.84" height="17.75" fill="#8c207d"/>
<rect x="140.00" y="431.60" width="17.84" height="17.75" fill="#503696"/>
<rect x="157.14" y="431.60" width="17.84" height="17.75" fill="#a5196e"/>
<rect x="174.28" y="431.60" width="17.14" height="17.75" fill="#413c9b"/>
<rect x="54.30" y="448.65" width="17.84" height="17.75" fill="#2b4ca3"/>
<rect x="71.44" y="448.65" width="17.84" height="17.75" fill="#3247a1"/>
<rect x="88.58" y="448.65" width="17.84" height="17.75" fill="#642e90"/>
<rect x="105.72" y="448.65" width="17.84" height="17.75" fill="#2b4ca3"/>
<rect x="122.86" y="448.65" width="17.84" height="17.75" fill="#2b4ca3"/>
<rect x="140.00" y="448.65" width="17.84" height="17.75" fill="#2b4ca3"/>
<rect x="157.14" y="448.65" width="17.84" height="17.75" fill="#3247a1"/>
<rect x="174.28" y="448.65" width="17.14" height="17.75" fill="#4361ae"/>
<rect x="54.30" y="465.70" width="17.84" height="17.75" fill="#2f4fa5"/>
<rect x="71.44" y="465.70" width="17.84" height="17.75" fill="#3352a8"/>
<rect x="88.58" y="465.70" width="17.84" height="17.75" fill="#3247a1"/>
<rect x="105.72" y="465.70" width="17.84" height="17.75" fill="#3247a1"/>
<rect x="122.86" y="465.70" width="17.84" height="17.75" fill="#3247a1"/>
<rect x="140.00" y="465.70" width="17.84" height="17.75" fill="#aeb664"/>
<rect x="157.14" y="465.70" width="17.84" height="17.75" fill="#961e77"/>
<rect x="174.28" y="465.70" width="17.14" height="17.75" fill="#3755aa"/>
<rect x="54.30" y="482.75" width="17.84" height="17.75" fill="#413c9b"/>
<rect x="71.44" y="482.75" width="17.84" height="17.75" fill="#2f4fa5"/>
<rect x="88.58" y="482.75" width="17.84" height="17.75" fill="#a5196e"/>
<rect x="105.72" y="482.75" width="17.84" height="17.75" fill="#3a419d"/>
<rect x="122.86" y="482.75" width="17.84" height="17.75" fill="#36449f"/>
<rect x="140.00" y="482.75" width="17.84" height="17.75" fill="#dad63d"/>
<rect x="157.14" y="482.75" width="17.84" height="17.75" fill="#2f4fa5"/>
<rect x="174.28" y="482.75" width="17.14" height="17.75" fill="#cdcd46"/>
<rect x="54.30" y="499.80" width="17.84" height="17.75" fill="#4361ae"/>
<rect x="71.44" y="499.80" width="17.84" height="17.75" fill="#3150a6"/>
<rect x="88.58" y="499.80" width="17.84" height="17.75" fill="#3352a8"/>
<rect x="105.72" y="499.80" width="17.84" height="17.75" fill="#2f4fa5"/>
<rect x="122.86" y="499.80" width="17.84" height="17.75" fill="#5f7db9"/>
<rect x="140.00" y="499.80" width="17.84" height="17.75" fill="#5f7db9"/>
<rect x="157.14" y="499.80" width="17.84" height="17.75" fill="#2f4fa5"/>
<rect x="174.28" y="499.80" width="17.14" height="17.75" fill="#3352a8"/>
<rect x="54.30" y="516.85" width="17.84" height="17.75" fill="#2f4fa5"/>
<rect x="71.44" y="516.85" width="17.84" height="17.75" fill="#8fa082"/>
<rect x="88.58" y="516.85" width="17.84" height="17.75" fill="#5371b4"/>
<rect x="105.72" y="516.85" width="17.84" height="17.75" fill="#8fa082"/>
<rect x="122.86" y="516.85" width="17.84" height="17.75" fill="#2f4fa5"/>
<rect x="140.00" y="516.85" width="17.84" height="17.75" fill="#f8ec28"/>
<rect x="157.14" y="516.85" width="17.84" height="17.75" fill="#a2ae70"/>
<rect x="174.28" y="516.85" width="17.14" height="17.75" fill="#f8ec28"/>
<rect x="54.30" y="533.90" width="17.84" height="17.75" fill="#a2ae70"/>
<rect x="71.44" y="533.90" width="17.84" height="17.75" fill="#f8ec28"/>
<rect x="88.58" y="533.90" width="17.84" height="17.75" fill="#8fa082"/>
<rect x="105.72" y="533.90" width="17.84" height="17.75" fill="#f8ec28"/>
<rect x="122.86" y="533.90" width="17.84" height="17.75" fill="#8fa082"/>
<rect x="140.00" y="533.90" width="17.84" height="17.75" fill="#f8ec28"/>
<rect x="157.14" y="533.90" width="17.84" height="17.75" fill="#a2ae70"/>
<rect x="174.28" y="533.90" width="17.14" height="17.75" fill="#f8ec28"/>
<rect x="54.30" y="550.95" width="17.84" height="17.75" fill="#5f7db9"/>
<rect x="71.44" y="550.95" width="17.84" height="17.75" fill="#4b69b2"/>
<rect x="88.58" y="550.95" width="17.84" height="17.75" fill="#6d88a8"/>
<rect x="105.72" y="550.95" width="17.84" height="17.75" fill="#819692"/>
<rect x="122.86" y="550.95" width="17.84" height="17.75" fill="#3150a6"/>
<rect x="140.00" y="550.95" width="17.84" height="17.75" fill="#6d88a8"/>
<rect x="157.14" y="550.95" width="17.84" height="17.75" fill="#2f4fa5"/>
<rect x="174.28" y="550.95" width="17.14" height="17.75" fill="#778e9e"/>
<rect x="54.30" y="568.00" width="17.84" height="17.05" fill="#3352a8"/>
<rect x="71.44" y="568.00" width="17.84" height="17.05" fill="#3755aa"/>
<rect x="88.58" y="568.00" width="17.84" height="17.05" fill="#2f4fa5"/>
<rect x="105.72" y="568.00" width="17.84" height="17.05" fill="#3352a8"/>
<rect x="122.86" y="568.00" width="17.84" height="17.05" fill="#2f4fa5"/>
<rect x="140.00" y="568.00" width="17.84" height="17.05" fill="#2f4fa5"/>
<rect x="157.14" y="568.00" width="17.84" height="17.05" fill="#3755aa"/>
<rect x="174.28" y="568.00" width="17.14" height="17.05" fill="#3755aa"/>
<text class="g" x="193.00" y="446.10">ICOS</text>
<text class="g" x="193.00" y="463.10">GATA3</text>
<text class="g" x="193.00" y="480.10">PRDM1</text>
<text class="g" x="193.00" y="497.10">MAF</text>
<text class="g" x="193.00" y="514.10">IRF4</text>
<text class="g" x="193.00" y="531.10">TBX21</text>
<text class="g" x="193.00" y="548.10">RORC</text>
<text class="g" x="193.00" y="565.10">AHR</text>
<text class="g" x="193.00" y="582.10">IKZF3</text>
<rect x="24.30" y="431.90" width="26.30" height="152.90" fill="#fff" stroke="#a2a2a2" stroke-width="1"/><text class="b" style="font-size:14.4px" transform="translate(43.40 509.20) rotate(-90)" text-anchor="middle">Transcription factors</text>
<text class="c" style="font-size:13.9px" transform="translate(66.00 661.80) rotate(-90) scale(1.000 1)">eRA-Tconv</text>
<text class="c" style="font-size:13.9px" transform="translate(83.20 661.80) rotate(-90) scale(1.000 1)">eRA+Tconv</text>
<text class="c" style="font-size:13.9px" transform="translate(100.40 661.80) rotate(-90) scale(1.000 1)">eRA-Treg</text>
<text class="c" style="font-size:13.9px" transform="translate(117.60 661.80) rotate(-90) scale(1.000 1)">eRA+Treg</text>
<text class="c" style="font-size:13.9px" transform="translate(134.80 661.80) rotate(-90) scale(1.000 1)">pRA-Tconv</text>
<text class="c" style="font-size:13.9px" transform="translate(152.00 661.80) rotate(-90) scale(1.000 1)">pRA+Tconv</text>
<text class="c" style="font-size:13.9px" transform="translate(169.20 661.80) rotate(-90) scale(1.000 1)">pRA-Treg</text>
<text class="c" style="font-size:13.9px" transform="translate(186.40 661.80) rotate(-90) scale(1.000 1)">pRA+Treg</text>
<rect x="448.8" y="565.60" width="15.8" height="9.54" fill="#ec2028"/>
<rect x="448.8" y="574.64" width="15.8" height="9.54" fill="#d7143c"/>
<rect x="448.8" y="583.68" width="15.8" height="9.54" fill="#a5196e"/>
<rect x="448.8" y="592.72" width="15.8" height="9.54" fill="#73288c"/>
<rect x="448.8" y="601.76" width="15.8" height="9.54" fill="#413c9b"/>
<rect x="448.8" y="610.80" width="15.8" height="9.54" fill="#2b4ca3"/>
<rect x="448.8" y="619.84" width="15.8" height="9.54" fill="#3755aa"/>
<rect x="448.8" y="628.88" width="15.8" height="9.54" fill="#5f7db9"/>
<rect x="448.8" y="637.92" width="15.8" height="9.54" fill="#8fa082"/>
<rect x="448.8" y="646.96" width="15.8" height="9.54" fill="#cdcd46"/>
<rect x="448.8" y="656.00" width="15.8" height="30.00" fill="#f8ec28"/>
<text class="l" transform="translate(468.00 575.42) scale(1.080 1)">≥11</text>
<text class="l" transform="translate(468.00 593.50) scale(1.080 1)">9</text>
<text class="l" transform="translate(468.00 611.58) scale(1.080 1)">7</text>
<text class="l" transform="translate(468.00 629.66) scale(1.080 1)">5</text>
<text class="l" transform="translate(468.00 647.74) scale(1.080 1)">3</text>
<text class="l" transform="translate(468.00 665.82) scale(1.080 1)">≤1</text>
<text class="n" text-anchor="middle" transform="translate(502.30 617.00) rotate(-90)">Normalized</text>
<text class="n" text-anchor="middle" transform="translate(517.50 617.00) rotate(-90)">tag count (log2)</text>
<text class="p" transform="translate(-0.30 17.30) scale(1.170 1)">A</text>
<text class="p" transform="translate(241.20 17.80) scale(1.090 1)">B</text>
<text class="p" transform="translate(0.60 447.00) scale(1.070 1)">C</text>
</svg>
</div>
</body></html>
